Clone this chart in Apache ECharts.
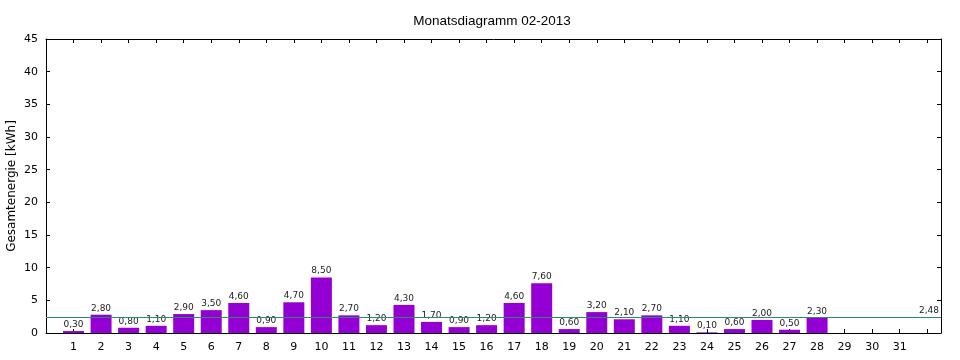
<!DOCTYPE html>
<html><head><meta charset="utf-8">
<script src="https://cdn.jsdelivr.net/npm/echarts@6/dist/echarts.min.js"></script>
<style>html,body{margin:0;padding:0;background:#fff}#c{width:960px;height:360px}</style>
</head><body><div id="c"></div>
<script>
const days = [1,2,3,4,5,6,7,8,9,10,11,12,13,14,15,16,17,18,19,20,21,22,23,24,25,26,27,28];
const energy = [0.30,2.80,0.80,1.10,2.90,3.50,4.60,0.90,4.70,8.50,2.70,1.20,4.30,1.70,0.90,1.20,4.60,7.60,0.60,3.20,2.10,2.70,1.10,0.10,0.60,2.00,0.50,2.30];
const meanValue = 2.48;
const yTicks = [0,5,10,15,20,25,30,35,40,45];
const title = 'Monatsdiagramm 02-2013';
const yName = 'Gesamtenergie [kWh]';

const fmt = v => v.toFixed(2).replace('.', ',');
const chart = echarts.init(document.getElementById('c'), null, {renderer:'canvas'});
const axisFont = {fontFamily:'DejaVu Sans', fontSize:11, color:'#000'};
chart.setOption({
  animation:false,
  title:{text:title, left:487, textAlign:'center', top:9, textStyle:{fontFamily:'Liberation Sans', fontSize:13.5, fontWeight:'normal', color:'#000'}},
  grid:{left:46, right:19, top:39, bottom:27, containLabel:false, outerBoundsMode:'none'},
  xAxis:[{
    type:'value', min:0, max:32.5, interval:1,
    axisLine:{show:true, onZero:false, lineStyle:{color:'#000', width:1}},
    axisTick:{show:true, inside:true, length:4, lineStyle:{color:'#000'}},
    axisLabel:Object.assign({margin:9, showMaxLabel:false, formatter:v => (v>=1 && v<=31 && Number.isInteger(v)) ? String(v) : ''}, axisFont),
    splitLine:{show:false}
  },{
    type:'value', position:'top', min:0, max:32.5, interval:1,
    axisLine:{show:true, onZero:false, lineStyle:{color:'#000', width:1}},
    axisTick:{show:true, inside:true, length:4, lineStyle:{color:'#000'}},
    axisLabel:{show:false}, splitLine:{show:false}
  }],
  yAxis:[{
    type:'value', min:yTicks[0], max:yTicks[yTicks.length-1], interval:5,
    name:yName, nameLocation:'middle', nameGap:28, nameRotate:90, nameMoveOverlap:false,
    nameTextStyle:{fontFamily:'DejaVu Sans', fontSize:12, color:'#000'},
    axisLine:{show:true, onZero:false, lineStyle:{color:'#000', width:1}},
    axisTick:{show:true, inside:true, length:4, lineStyle:{color:'#000'}},
    axisLabel:Object.assign({margin:8}, axisFont),
    splitLine:{show:false}
  },{
    type:'value', position:'right', min:yTicks[0], max:yTicks[yTicks.length-1], interval:5,
    axisLine:{show:true, onZero:false, lineStyle:{color:'#000', width:1}},
    axisTick:{show:true, inside:true, length:4, lineStyle:{color:'#000'}},
    axisLabel:{show:false}, splitLine:{show:false}
  }],
  series:[{
    type:'bar', xAxisIndex:0, yAxisIndex:0,
    data: days.map((d,i)=>[d, energy[i]]),
    barWidth:21,
    itemStyle:{color:'#9400d3'},
    label:{show:true, position:'top', distance:2, formatter:p=>fmt(p.value[1]), fontFamily:'DejaVu Sans', fontSize:9, color:'#222'},
    markLine:{
      symbol:'none', silent:true,
      lineStyle:{color:'#2a8a6a', width:1, type:'solid'},
      label:{show:true, position:'insideEndTop', formatter:()=>fmt(meanValue), fontFamily:'DejaVu Sans', fontSize:9, color:'#222', distance:[2,2]},
      data:[{yAxis:meanValue}]
    }
  },{
    type:'scatter', xAxisIndex:1, yAxisIndex:1, data:[], silent:true
  }]
});
</script></body></html>
